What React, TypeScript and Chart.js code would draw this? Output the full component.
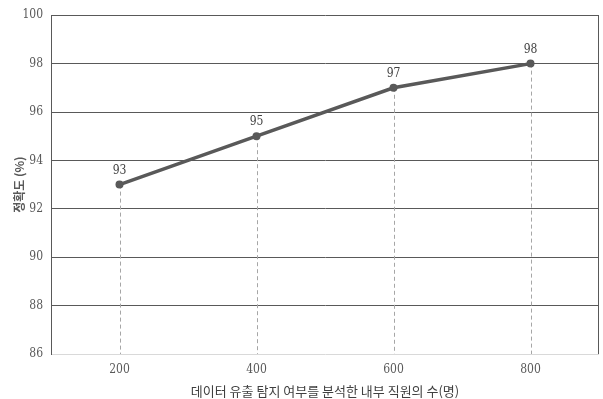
import React, { useEffect, useRef } from "react";
import { Chart, registerables } from "chart.js";

Chart.register(...registerables);

const categories = ["200", "400", "600", "800"];
const accuracy = [93, 95, 97, 98];
const yMin = 86;
const yMax = 100;
const yStep = 2;
const xTitle = "데이터 유출 탐지 여부를 분석한 내부 직원의 수(명)";
const yTitle = "정확도 (%)";

const tickFont = "'DejaVu Serif Condensed', 'Liberation Serif', serif";
const krFont = "'Noto Sans CJK KR', 'Noto Sans', sans-serif";

const extrasPlugin = {
  id: "extras",
  beforeDatasetsDraw(chart: any) {
    const { ctx, chartArea } = chart;
    const meta = chart.getDatasetMeta(0);
    ctx.save();
    ctx.strokeStyle = "#a6a6a6";
    ctx.lineWidth = 1;
    ctx.setLineDash([4, 3]);
    meta.data.forEach((pt: any) => {
      const x = Math.round(pt.x) + 0.5;
      ctx.beginPath();
      ctx.moveTo(x, pt.y);
      ctx.lineTo(x, chartArea.bottom);
      ctx.stroke();
    });
    ctx.setLineDash([]);
    ctx.strokeStyle = "#595959";
    ctx.beginPath();
    ctx.moveTo(Math.round(chartArea.right) - 0.5, chartArea.top);
    ctx.lineTo(Math.round(chartArea.right) - 0.5, chartArea.bottom);
    ctx.stroke();
    ctx.restore();
  },
  afterDatasetsDraw(chart: any) {
    const { ctx } = chart;
    const meta = chart.getDatasetMeta(0);
    const values = chart.data.datasets[0].data;
    ctx.save();
    ctx.fillStyle = "#404040";
    ctx.font = "12px " + tickFont;
    ctx.textAlign = "center";
    ctx.textBaseline = "bottom";
    meta.data.forEach((pt: any, i: number) => {
      ctx.fillText(String(values[i]), pt.x, pt.y - 8);
    });
    ctx.restore();
  },
};

export default function App() {
  const ref = useRef<HTMLCanvasElement>(null);
  useEffect(() => {
    if (!ref.current) return;
    const chart = new Chart(ref.current, {
      type: "line",
      data: {
        labels: categories,
        datasets: [
          {
            data: accuracy,
            borderColor: "#595959",
            backgroundColor: "#595959",
            borderWidth: 3.5,
            pointRadius: 4,
            pointBackgroundColor: "#595959",
            pointBorderWidth: 0,
            tension: 0,
          },
        ],
      },
      options: {
        animation: false,
        responsive: false,
        maintainAspectRatio: false,
        layout: { padding: { top: 14, right: 2, left: 0, bottom: 0 } },
        plugins: { legend: { display: false }, tooltip: { enabled: false } },
        scales: {
          x: {
            type: "category",
            offset: true,
            grid: { display: false, drawTicks: false },
            border: { display: false },
            ticks: {
              color: "#595959",
              font: { family: tickFont, size: 12 },
              padding: 9,
            },
            title: {
              display: true,
              text: xTitle,
              color: "#404040",
              font: { family: krFont, size: 13 },
              padding: { top: 0, bottom: 0 },
            },
            afterFit(scale: any) {
              scale.height = 45;
            },
          },
          y: {
            min: yMin,
            max: yMax,
            ticks: {
              stepSize: yStep,
              color: "#595959",
              font: { family: tickFont, size: 12 },
              padding: 8,
            },
            grid: {
              drawTicks: false,
              lineWidth: 1,
              color: (c: any) => (c.tick && c.tick.value === yMin ? "#d9d9d9" : "#595959"),
            },
            border: { display: true, color: "#595959", width: 1 },
            title: {
              display: true,
              text: yTitle,
              color: "#595959",
              font: { family: krFont, size: 12, weight: "bold" },
              padding: { top: 12, bottom: 2 },
            },
            afterFit(scale: any) {
              scale.width = 51;
            },
          },
        },
      },
      plugins: [extrasPlugin],
    });
    return () => chart.destroy();
  }, []);
  return (
    <div style={{ position: "absolute", left: 0, top: 0, width: 603, height: 399, background: "#fff" }}>
      <canvas ref={ref} width={603} height={399} style={{ width: 603, height: 399 }} />
    </div>
  );
}
